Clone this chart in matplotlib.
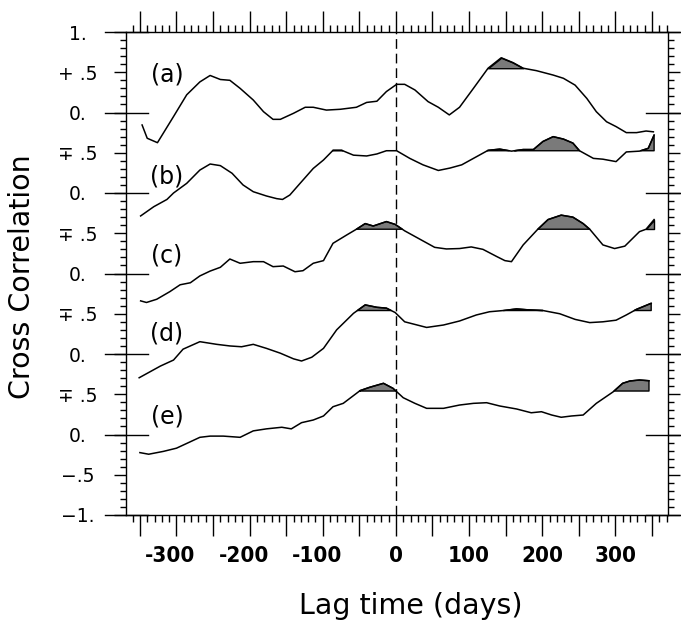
import numpy as np
import matplotlib
matplotlib.use("Agg")
import matplotlib.pyplot as plt
from matplotlib import font_manager
from matplotlib.transforms import ScaledTranslation

# lag (days) and cross correlation, one series per panel
lag_a = [-347, -340, -326, -304, -286, -268, -254, -240, -227, -213, -195, -181, -168, -158, -140,
         -124, -113, -95, -76, -54, -40, -26, -13, 1, 12, 26, 44, 58, 73, 87, 106, 126, 144, 160,
         174, 192, 215, 229, 245, 261, 274, 288, 301, 315, 329, 342, 352]
corr_a = [-0.155, -0.32, -0.375, -0.05, 0.22, 0.38, 0.46, 0.41, 0.40, 0.30, 0.155, 0.01, -0.085,
          -0.085, -0.01, 0.065, 0.065, 0.03, 0.04, 0.065, 0.125, 0.14, 0.26, 0.35, 0.35, 0.28,
          0.135, 0.065, -0.03, 0.065, 0.30, 0.55, 0.68, 0.62, 0.55, 0.52, 0.465, 0.425, 0.34,
          0.175, 0.01, -0.115, -0.175, -0.25, -0.25, -0.23, -0.24]

lag_b = [-349, -331, -313, -304, -286, -268, -254, -240, -224, -209, -195, -177, -163, -155, -145,
         -131, -113, -99, -86, -74, -58, -40, -26, -13, 1, 19, 37, 58, 74, 90, 110, 126, 142, 158,
         174, 188, 201, 215, 229, 242, 251, 270, 283, 301, 315, 333, 345, 353]
corr_b = [-0.285, -0.17, -0.08, 0.0, 0.12, 0.285, 0.36, 0.34, 0.245, 0.10, 0.016, -0.037, -0.07,
          -0.08, -0.025, 0.12, 0.305, 0.41, 0.53, 0.53, 0.47, 0.46, 0.485, 0.525, 0.525, 0.43,
          0.35, 0.28, 0.31, 0.35, 0.45, 0.53, 0.545, 0.52, 0.54, 0.54, 0.64, 0.70, 0.67, 0.62,
          0.525, 0.43, 0.42, 0.39, 0.51, 0.52, 0.555, 0.72]

lag_c = [-349, -341, -327, -309, -295, -281, -268, -254, -240, -227, -213, -195, -181, -168, -154,
         -138, -127, -113, -99, -86, -67, -54, -42, -31, -13, -1, 12, 33, 53, 69, 87, 103, 119,
         138, 149, 158, 174, 194, 208, 226, 242, 256, 265, 283, 299, 313, 333, 342, 353]
corr_c = [-0.34, -0.36, -0.32, -0.225, -0.14, -0.115, -0.03, 0.03, 0.077, 0.18, 0.127, 0.147,
          0.147, 0.085, 0.093, 0.022, 0.035, 0.127, 0.16, 0.375, 0.48, 0.55, 0.62, 0.59, 0.645,
          0.61, 0.53, 0.425, 0.325, 0.305, 0.31, 0.33, 0.30, 0.21, 0.16, 0.147, 0.355, 0.55,
          0.67, 0.725, 0.70, 0.62, 0.55, 0.355, 0.31, 0.34, 0.52, 0.55, 0.67]

lag_d = [-351, -336, -322, -304, -291, -268, -245, -227, -211, -195, -177, -158, -140, -129, -115,
         -99, -81, -58, -42, -26, -13, -1, 12, 42, 65, 87, 110, 128, 147, 165, 183, 201, 224, 245,
         265, 283, 301, 315, 329, 349]
corr_d = [-0.295, -0.22, -0.15, -0.075, 0.06, 0.153, 0.12, 0.10, 0.09, 0.12, 0.07, 0.01, -0.06,
          -0.087, -0.04, 0.07, 0.30, 0.505, 0.61, 0.58, 0.57, 0.515, 0.40, 0.33, 0.36, 0.41,
          0.485, 0.525, 0.54, 0.56, 0.547, 0.54, 0.50, 0.43, 0.39, 0.40, 0.42, 0.485, 0.555, 0.63]

lag_e = [-350, -338, -318, -300, -281, -268, -254, -236, -213, -195, -177, -156, -143, -129, -113,
         -99, -86, -72, -49, -36, -17, -4, 10, 26, 42, 65, 87, 106, 124, 142, 165, 185, 199, 213,
         226, 240, 256, 274, 297, 310, 320, 333, 346]
corr_e = [-0.225, -0.245, -0.21, -0.17, -0.09, -0.035, -0.02, -0.02, -0.035, 0.045, 0.07, 0.09,
          0.07, 0.147, 0.18, 0.23, 0.345, 0.387, 0.545, 0.586, 0.636, 0.574, 0.457, 0.387, 0.325,
          0.325, 0.366, 0.387, 0.395, 0.354, 0.317, 0.27, 0.283, 0.242, 0.214, 0.23, 0.242,
          0.387, 0.53, 0.636, 0.665, 0.677, 0.668]

panel_names = ["(a)", "(b)", "(c)", "(d)", "(e)"]
panel_lags = [lag_a, lag_b, lag_c, lag_d, lag_e]
panel_corrs = [corr_a, corr_b, corr_c, corr_d, corr_e]
panel_offsets = [4, 3, 2, 1, 0]
signif_levels = [0.55, 0.525, 0.55, 0.54, 0.54]
label_heights = [0.47, 0.21, 0.22, 0.25, 0.22]

ytick_pos = [-1, -0.5, 0, 0.5, 1, 1.5, 2, 2.5, 3, 3.5, 4, 4.5, 5]
ytick_labels = ["\u22121.", "\u2212.5", "0.", "\u2213 .5", "0.", "\u2213 .5", "0.", "\u2213 .5",
                "0.", "\u2213 .5", "0.", "+ .5", "1."]
xtick_pos = [-300, -200, -100, 0, 100, 200, 300]
xtick_labels = ["-300", "-200", "-100", "0", "100", "200", "300"]

# look for a narrow bold face for the x tick numbers
narrow_font = None
narrow_stretch = "normal"
for f in font_manager.fontManager.ttflist:
    if ("Narrow" in f.name or "Condensed" in f.name) and narrow_font is None:
        narrow_font = f.name
    if f.name == "DejaVu Sans" and f.stretch == "condensed" and f.weight in (700, "bold"):
        narrow_font, narrow_stretch = "DejaVu Sans", "condensed"
        break
if narrow_font is None:
    narrow_font = "Liberation Sans"

plt.rcParams['font.family'] = ['DejaVu Sans']

fig = plt.figure(figsize=(6.81, 6.21), dpi=100)
ax = fig.add_axes([126 / 681, 1 - 515 / 621, 542 / 681, 483 / 621])
ax.set_xlim(-369, 372)
ax.set_ylim(-1, 5)

for sp in ax.spines.values():
    sp.set_linewidth(1.0)

# curves with shaded part above the significance level
for name, lag, corr, off, lev, lh in zip(panel_names, panel_lags, panel_corrs,
                                          panel_offsets, signif_levels, label_heights):
    lag = np.array(lag, dtype=float)
    yy = np.array(corr) + off
    ax.fill_between(lag, off + lev, yy, where=yy > off + lev, interpolate=True,
                    facecolor="#7a7a7a", edgecolor="black", linewidth=1.0, zorder=2)
    ax.plot(lag, yy, color="black", lw=1.1, zorder=3)
    ax.text(-313, off + lh, name, fontsize=17, ha="center", va="center")

ax.axvline(0, color="black", lw=1.0, ls=(0, (7, 3.5)), zorder=1)

# ticks
ax.set_xticks(np.arange(-350, 351, 50))
ax.set_xticks(np.arange(-360, 371, 10), minor=True)
ax.set_xticklabels([xtick_labels[xtick_pos.index(v)] if v in xtick_pos else ""
                    for v in np.arange(-350, 351, 50)],
                   fontfamily=[narrow_font, "DejaVu Sans"], fontstretch=narrow_stretch,
                   fontweight="bold", fontsize=16)
ax.tick_params(axis="x", which="major", direction="out", length=15, width=1.0,
               top=True, bottom=True, pad=7)
ax.tick_params(axis="x", which="minor", direction="out", length=5, width=1.0,
               top=True, bottom=True)

ax.set_yticks(ytick_pos)
ax.set_yticks(np.arange(-1, 5.001, 0.1), minor=True)
ax.set_yticklabels(ytick_labels, fontsize=13.5)
ax.tick_params(axis="y", which="major", direction="out", length=8.6, width=1.0,
               left=True, right=True, pad=26)
ax.tick_params(axis="y", which="minor", direction="out", length=4.3, width=1.0,
               left=True, right=True)
for lab in ax.get_yticklabels():
    lab.set_horizontalalignment("center")

shift = ScaledTranslation(-6 / 100, 0, fig.dpi_scale_trans)
for lab in ax.get_xticklabels():
    if lab.get_text().startswith("-"):
        lab.set_transform(lab.get_transform() + shift)

# long marks at each zero level (and +-1) crossing the frame
for lvl in range(-1, 6):
    ax.axhline(lvl, xmin=-21 / 542, xmax=22 / 542, color="black", lw=1.0, clip_on=False)
    ax.axhline(lvl, xmin=1 - 22 / 542, xmax=1 + 21 / 542, color="black", lw=1.0, clip_on=False)

ax.set_xlabel("Lag time (days)", fontsize=20.5)
ax.set_ylabel("Cross Correlation", fontsize=20.5)
ax.xaxis.set_label_coords(0.526, -0.159)
ax.yaxis.set_label_coords(-0.166, 0.493)

fig.savefig("out.png", dpi=100)
